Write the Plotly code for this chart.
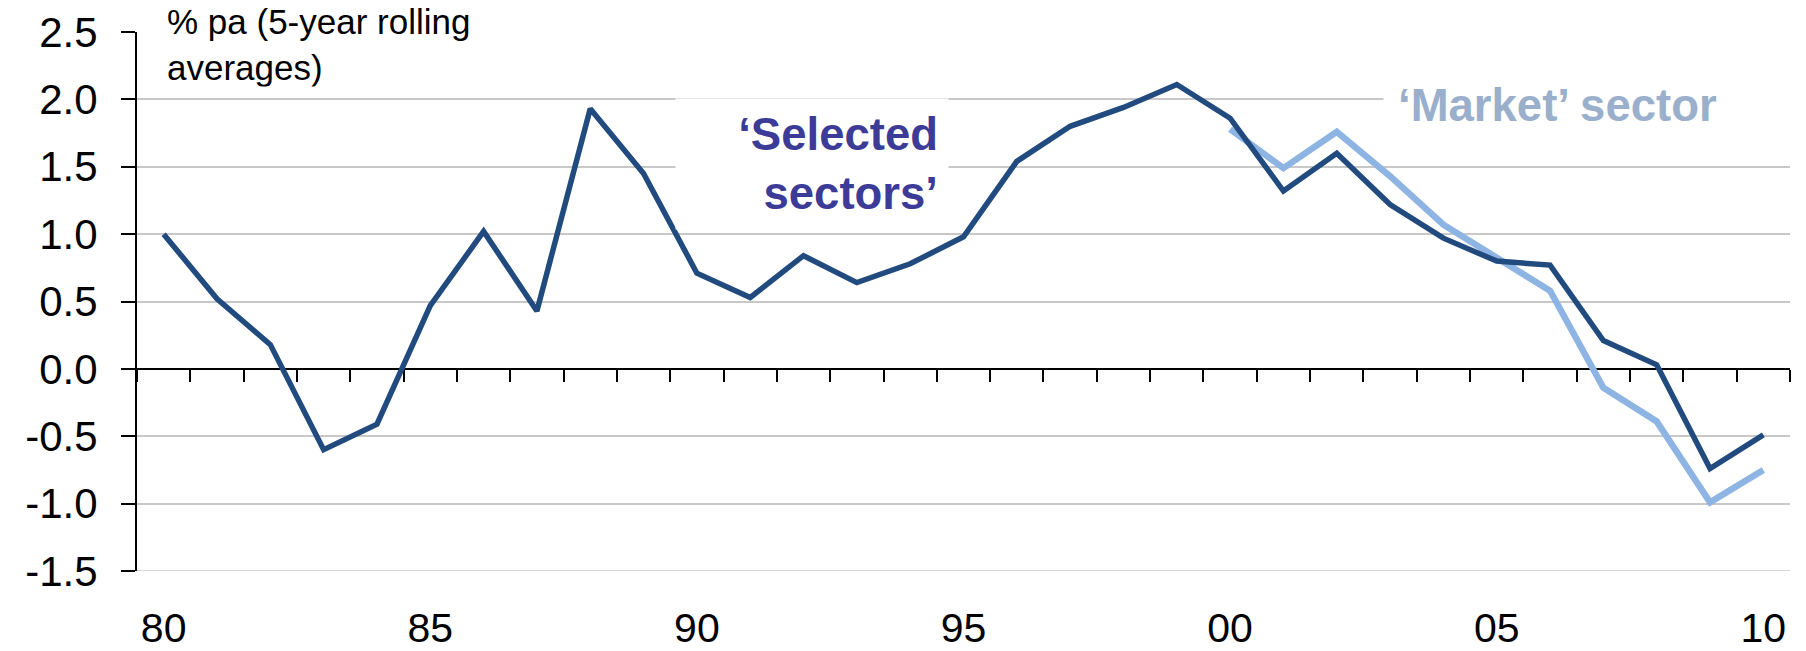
import plotly.graph_objects as go

# Annual observations, 1980-2010 (two-digit year labels on the axis)
years = list(range(1980, 2011))
year_labels = [str(y)[2:] for y in years]

# Productivity growth, % pa, 5-year rolling averages
selected_sectors = [1.00, 0.52, 0.18, -0.60, -0.41, 0.47, 1.02, 0.43, 1.93, 1.45,
                    0.71, 0.53, 0.84, 0.64, 0.78, 0.98, 1.54, 1.80, 1.94, 2.11,
                    1.86, 1.32, 1.60, 1.22, 0.97, 0.80, 0.77, 0.21, 0.03, -0.74,
                    -0.49]
market_labels = year_labels[20:]
market_sector = [1.78, 1.49, 1.76, 1.43, 1.07, 0.82, 0.58, -0.14, -0.39, -0.99, -0.75]

y_tickvals = [-1.5, -1.0, -0.5, 0.0, 0.5, 1.0, 1.5, 2.0, 2.5]
y_ticktext = ["-1.5", "-1.0", "-0.5", "0.0", "0.5", "1.0", "1.5", "2.0", "2.5"]
x_ticktext = [lab if y % 5 == 0 else "" for y, lab in zip(years, year_labels)]

FONT = "Liberation Sans, Arial, sans-serif"
DARK = "#214B7E"
LIGHT = "#8DB4E2"
GRID = "#C8C8C8"

fig = go.Figure()
fig.add_trace(go.Scatter(
    x=market_labels, y=market_sector, mode="lines",
    line=dict(color=LIGHT, width=6.5), name="'Market' sector", hoverinfo="x+y"))
fig.add_trace(go.Scatter(
    x=year_labels, y=selected_sectors, mode="lines",
    line=dict(color=DARK, width=5.5), name="'Selected sectors'", hoverinfo="x+y"))

W, H = 1806, 651
ML, MR, MT, MB = 137, 16, 32, 80
PW, PH = W - ML - MR, H - MT - MB
y0, y1 = y_tickvals[0], y_tickvals[-1]
zero_pos = (0 - y0) / (y1 - y0)

fig.update_layout(
    width=W, height=H,
    margin=dict(l=ML, r=MR, t=MT, b=MB, pad=0, autoexpand=False),
    paper_bgcolor="white", plot_bgcolor="white",
    showlegend=False,
    font=dict(family=FONT, color="black"),
    xaxis=dict(
        type="category", categoryorder="array", categoryarray=year_labels,
        range=[-0.5, len(years) - 0.5],
        tickmode="array", tickvals=year_labels, ticktext=x_ticktext,
        tickson="boundaries", ticks="outside", ticklen=12, tickwidth=2,
        tickcolor="black", showline=True, linecolor="black", linewidth=2,
        showgrid=False, zeroline=False, anchor="free", position=zero_pos,
        layer="below traces", ticklabelstandoff=223, tickangle=0,
        automargin=False,
        tickfont=dict(family=FONT, size=41, color="black"),
    ),
    yaxis=dict(
        range=[y0, y1], tickmode="array", tickvals=y_tickvals, ticktext=y_ticktext,
        showgrid=True, gridcolor=GRID, gridwidth=1.5,
        showline=True, linecolor="black", linewidth=2,
        ticks="outside", ticklen=14, tickwidth=2, tickcolor="black",
        zeroline=False, layer="below traces", ticklabelstandoff=15,
        automargin=False,
        tickfont=dict(family=FONT, size=42, color="black"),
    ),
)

# bottom gridline at the lower edge of the value range
fig.add_shape(type="line", xref="paper", yref="y", x0=0, x1=1, y0=y0, y1=y0,
              line=dict(color=GRID, width=1.5), layer="below")

def px_to_xcat(px):
    return (px - ML) / (PW / len(years)) - 0.5

def px_to_y(py):
    return y1 - (py - MT) / PH * (y1 - y0)

fig.add_annotation(
    text="% pa (5-year rolling<br>averages)",
    xref="paper", yref="paper",
    x=(160 - ML) / PW, y=(H - MB - 44) / PH,
    xanchor="left", yanchor="middle", align="left",
    width=360, borderpad=6, bgcolor="white", showarrow=False,
    font=dict(family=FONT, size=35, color="black"),
)
fig.add_annotation(
    text="<b>‘Selected<br>sectors’</b>",
    xref="x", yref="y", x=px_to_xcat(812), y=px_to_y(164),
    xanchor="center", yanchor="middle", align="right",
    width=252, borderpad=10, bgcolor="white", showarrow=False,
    font=dict(family=FONT, size=45.5, color="#3C3C98"),
)
fig.add_annotation(
    text="<b>‘Market’ sector</b>",
    xref="x", yref="y", x=px_to_xcat(1588), y=px_to_y(105),
    xanchor="center", yanchor="middle", align="left",
    width=380, borderpad=14, bgcolor="white", showarrow=False,
    font=dict(family=FONT, size=45.5, color="#9AAFCB"),
)

fig.write_html("out.html")
